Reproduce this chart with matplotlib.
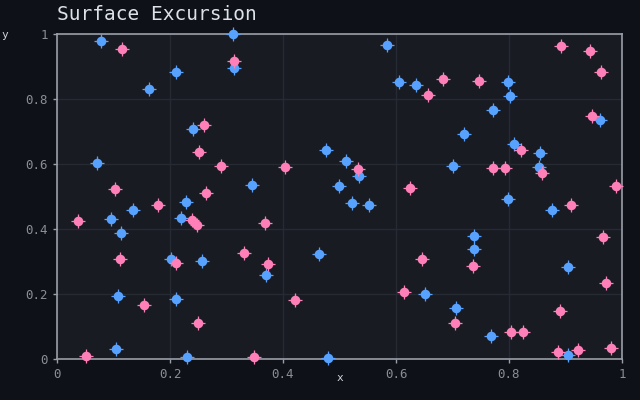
import matplotlib
matplotlib.use("Agg")
import matplotlib.pyplot as plt

blue_x = [0.078, 0.312, 0.211, 0.163, 0.313, 0.241, 0.071, 0.584, 0.605, 0.635, 0.798, 0.802, 0.720, 0.772,
          0.809, 0.855, 0.853, 0.701, 0.961, 0.476, 0.512, 0.499, 0.535, 0.522, 0.552, 0.345, 0.135, 0.096,
          0.113, 0.219, 0.228, 0.202, 0.257, 0.108, 0.211, 0.104, 0.230, 0.370, 0.464, 0.480, 0.738, 0.738,
          0.706, 0.651, 0.768, 0.876, 0.904, 0.904, 0.798]
blue_y = [0.978, 1.000, 0.883, 0.831, 0.895, 0.708, 0.603, 0.966, 0.852, 0.843, 0.852, 0.809, 0.692, 0.766,
          0.662, 0.634, 0.591, 0.594, 0.735, 0.643, 0.609, 0.532, 0.563, 0.480, 0.474, 0.535, 0.458, 0.431,
          0.388, 0.434, 0.483, 0.308, 0.302, 0.194, 0.185, 0.031, 0.006, 0.258, 0.323, 0.003, 0.378, 0.338,
          0.157, 0.200, 0.071, 0.458, 0.283, 0.012, 0.492]
pink_x = [0.115, 0.313, 0.260, 0.251, 0.290, 0.264, 0.103, 0.179, 0.037, 0.239, 0.248, 0.112, 0.211, 0.154,
          0.051, 0.250, 0.331, 0.368, 0.373, 0.349, 0.404, 0.421, 0.533, 0.625, 0.657, 0.684, 0.747, 0.646,
          0.614, 0.704, 0.736, 0.772, 0.793, 0.821, 0.858, 0.804, 0.825, 0.892, 0.943, 0.963, 0.947, 0.910,
          0.966, 0.972, 0.890, 0.887, 0.922, 0.980, 0.989]
pink_y = [0.954, 0.917, 0.720, 0.637, 0.594, 0.511, 0.523, 0.474, 0.425, 0.428, 0.412, 0.308, 0.295, 0.166,
          0.009, 0.111, 0.326, 0.418, 0.292, 0.006, 0.591, 0.182, 0.585, 0.526, 0.812, 0.862, 0.855, 0.308,
          0.206, 0.111, 0.286, 0.588, 0.588, 0.643, 0.572, 0.083, 0.083, 0.963, 0.948, 0.883, 0.748, 0.474,
          0.375, 0.234, 0.148, 0.022, 0.028, 0.034, 0.532]
ticks = [0, 0.2, 0.4, 0.6, 0.8, 1]
tick_labels = ["0", "0.2", "0.4", "0.6", "0.8", "1"]

plt.rcParams['font.family'] = ['DejaVu Sans Mono']

fig = plt.figure(figsize=(6.4, 4.0), dpi=100, facecolor="#0e1118")
ax = fig.add_axes([57/640, 1-359/400, 565/640, 325/400])
ax.set_facecolor("#181b22")

BLUE = "#58a2ff"
PINK = "#ff80b8"
for xs, ys, c in [(blue_x, blue_y, BLUE), (pink_x, pink_y, PINK)]:
    ax.scatter(xs, ys, s=48, marker="o", color=c, linewidths=0, zorder=3, clip_on=False)
    ax.scatter(xs, ys, s=100, marker="+", color=c, linewidths=0.9, zorder=3, clip_on=False)

ax.set_xlim(0, 1)
ax.set_ylim(0, 1)
ax.set_xticks(ticks)
ax.set_xticklabels(tick_labels)
ax.set_yticks(ticks)
ax.set_yticklabels(tick_labels)
ax.grid(True, color="#262a32", linewidth=1)
ax.set_axisbelow(True)
for s in ax.spines.values():
    s.set_color("#9a9ea6")
    s.set_linewidth(1.2)
ax.tick_params(colors="#9a9ea6", labelcolor="#8a8e96", labelsize=9, length=3, width=1)

fig.text(340/640, 1-378/400, "x", color="#d0d4dc", fontsize=8, ha="center", va="center")
fig.text(5/640, 1-35/400, "y", color="#d0d4dc", fontsize=8, ha="center", va="center")
fig.text(57/640, 1-14/400, "Surface Excursion", color="#dde2ea", fontsize=14, ha="left", va="center")

fig.savefig("out.png", dpi=100, facecolor=fig.get_facecolor())
